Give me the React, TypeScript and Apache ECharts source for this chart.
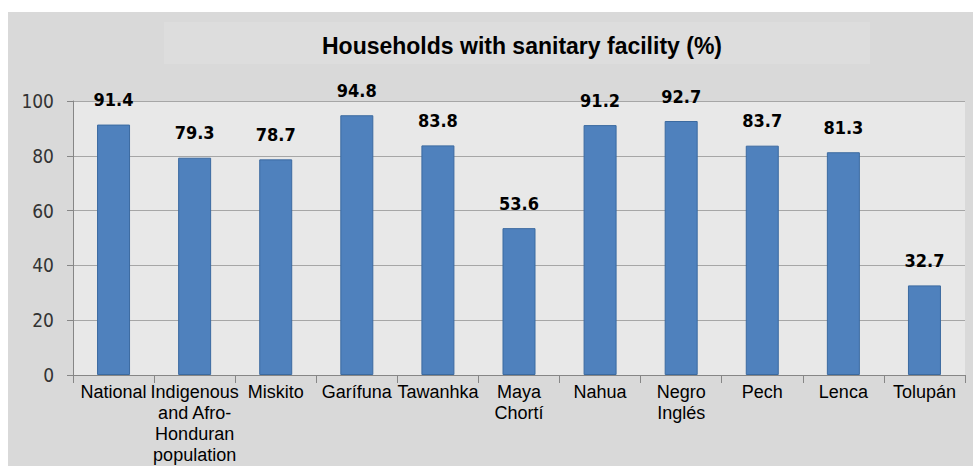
import React, { useEffect, useRef } from "react";
import * as echarts from "echarts";

const categories = [
  "National",
  "Indigenous\nand Afro-\nHonduran\npopulation",
  "Miskito",
  "Garífuna",
  "Tawanhka",
  "Maya\nChortí",
  "Nahua",
  "Negro\nInglés",
  "Pech",
  "Lenca",
  "Tolupán",
];
const values = [91.4, 79.3, 78.7, 94.8, 83.8, 53.6, 91.2, 92.7, 83.7, 81.3, 32.7];
const titleText = "Households with sanitary facility (%)";

export default function App() {
  const ref = useRef<HTMLDivElement>(null);
  useEffect(() => {
    if (!ref.current) return;
    const chart = echarts.init(ref.current, undefined, { renderer: "svg" });
    chart.setOption({
      animation: false,
      backgroundColor: "#ffffff",
      graphic: [
        {
          type: "rect",
          z: -10,
          shape: { x: 8, y: 12, width: 965, height: 454 },
          style: { fill: "#d9d9d9" },
          silent: true,
        },
        {
          type: "rect",
          z: -9,
          shape: { x: 164, y: 22, width: 706, height: 42 },
          style: { fill: "#dddddd" },
          silent: true,
        },
      ],
      title: {
        text: titleText,
        left: 517,
        textAlign: "center",
        top: 29,
        textStyle: {
          fontFamily: "Liberation Sans, Arial, sans-serif",
          fontWeight: "bold",
          fontSize: 23,
          color: "#000000",
        },
      },
      grid: {
        left: 73,
        right: 8,
        top: 101,
        bottom: 91,
        show: true,
        backgroundColor: "#e8e8e8",
        borderWidth: 0,
      },
      xAxis: {
        type: "category",
        data: categories,
        axisLine: { show: true, lineStyle: { color: "#868686", width: 1 } },
        axisTick: { show: true, length: 8, lineStyle: { color: "#868686" } },
        axisLabel: {
          interval: 0,
          margin: 6,
          fontFamily: "Liberation Sans, Arial, sans-serif",
          fontSize: 18,
          lineHeight: 21,
          color: "#000000",
        },
      },
      yAxis: {
        type: "value",
        min: 0,
        max: 100,
        interval: 20,
        axisLine: { show: true, lineStyle: { color: "#868686", width: 1 } },
        axisTick: { show: true, length: 6, lineStyle: { color: "#868686" } },
        splitLine: { show: true, lineStyle: { color: "#a6a6a6", width: 1 } },
        axisLabel: {
          margin: 19,
          fontFamily: "DejaVu Sans Condensed, DejaVu Sans, sans-serif",
          fontSize: 19,
          color: "#333333",
        },
      },
      series: [
        {
          type: "bar",
          data: values,
          barWidth: 33,
          itemStyle: { color: "#4f81bd", borderColor: "#3b6aa0", borderWidth: 1 },
          label: {
            show: true,
            position: "top",
            distance: 16,
            fontFamily: "DejaVu Sans Condensed, DejaVu Sans, sans-serif",
            fontWeight: "bold",
            fontSize: 18,
            color: "#000000",
            formatter: (p: any) => p.value.toFixed(1),
          },
        },
      ],
    });
    return () => chart.dispose();
  }, []);
  return (
    <div
      ref={ref}
      style={{ position: "absolute", left: 0, top: 0, width: 973, height: 466 }}
    />
  );
}
